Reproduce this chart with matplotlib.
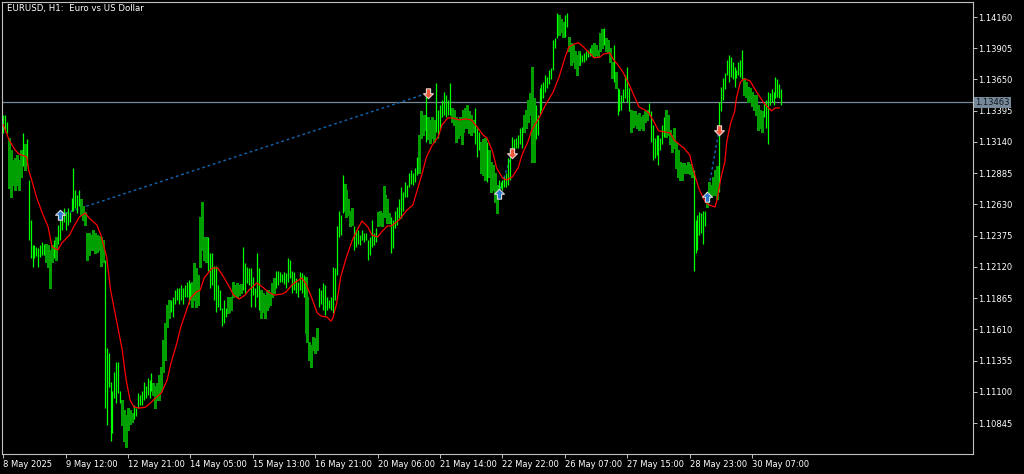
import matplotlib
matplotlib.use("Agg")
import matplotlib.pyplot as plt
import matplotlib.transforms as mtransforms
from matplotlib.path import Path
import numpy as np

plt.rcParams['font.family'] = ['DejaVu Sans']

title = "EURUSD, H1:  Euro vs US Dollar"
time_labels = ["8 May 2025", "9 May 12:00", "12 May 21:00", "14 May 05:00", "15 May 13:00",
               "16 May 21:00", "20 May 06:00", "21 May 14:00", "22 May 22:00", "26 May 07:00",
               "27 May 15:00", "28 May 23:00", "30 May 07:00"]
bars_per_label = 32
price_ticks = [1.14160, 1.13905, 1.13650, 1.13395, 1.13140, 1.12885, 1.12630,
               1.12375, 1.12120, 1.11865, 1.11610, 1.11355, 1.11100, 1.10845]
bid_price = 1.13463

highs = [
1.1336,1.1336,1.1330,1.1317,1.1307,1.1299,1.1301,1.1303,1.1299,1.1307,
1.1321,1.1312,1.1316,1.1283,1.1250,1.1230,1.1230,1.1228,1.1227,1.1230,
1.1232,1.1231,1.1231,1.1230,1.1226,1.1230,1.1234,1.1236,1.1246,1.1250,
1.1258,1.1260,1.1257,1.1260,1.1257,1.1268,1.1293,1.1275,1.1271,1.1275,
1.1267,1.1262,1.1257,1.1240,1.1240,1.1238,1.1242,1.1240,1.1238,1.1237,
1.1236,1.1234,1.1218,1.1146,1.1142,1.1118,1.1111,1.1126,1.1134,1.1134,
1.1111,1.1103,1.1095,1.1091,1.1097,1.1095,1.1093,1.1099,1.1097,1.1109,
1.1107,1.1111,1.1118,1.1115,1.1121,1.1120,1.1125,1.1117,1.1115,1.1117,
1.1124,1.1130,1.1152,1.1166,1.1181,1.1185,1.1185,1.1187,1.1193,1.1195,
1.1195,1.1197,1.1195,1.1197,1.1200,1.1201,1.1199,1.1200,1.1215,1.1211,
1.1205,1.1253,1.1265,1.1236,1.1236,1.1236,1.1223,1.1223,1.1213,1.1213,
1.1197,1.1193,1.1178,1.1185,1.1178,1.1187,1.1185,1.1187,1.1200,1.1197,
1.1199,1.1197,1.1198,1.1228,1.1215,1.1212,1.1211,1.1211,1.1204,1.1195,
1.1223,1.1211,1.1193,1.1191,1.1189,1.1193,1.1193,1.1191,1.1199,1.1203,
1.1209,1.1209,1.1208,1.1206,1.1208,1.1207,1.1219,1.1218,1.1209,1.1208,
1.1203,1.1200,1.1208,1.1207,1.1205,1.1204,1.1187,1.1151,1.1148,1.1155,
1.1154,1.1162,1.1195,1.1193,1.1199,1.1197,1.1187,1.1185,1.1187,1.1212,
1.1211,1.1245,1.1258,1.1254,1.1287,1.1280,1.1275,1.1267,1.1258,1.1260,
1.1245,1.1242,1.1242,1.1238,1.1242,1.1240,1.1240,1.1234,1.1236,1.1250,
1.1240,1.1244,1.1257,1.1258,1.1256,1.1278,1.1271,1.1267,1.1256,1.1253,
1.1250,1.1258,1.1261,1.1267,1.1277,1.1273,1.1281,1.1279,1.1289,1.1291,
1.1289,1.1293,1.1302,1.1320,1.1339,1.1334,1.1336,1.1352,1.1334,1.1332,
1.1334,1.1332,1.1362,1.1340,1.1344,1.1348,1.1355,1.1352,1.1348,1.1362,
1.1342,1.1340,1.1334,1.1332,1.1334,1.1325,1.1340,1.1342,1.1344,1.1339,
1.1336,1.1332,1.1342,1.1325,1.1322,1.1314,1.1316,1.1317,1.1314,1.1307,
1.1298,1.1295,1.1289,1.1279,1.1283,1.1281,1.1283,1.1285,1.1289,1.1301,
1.1307,1.1318,1.1316,1.1317,1.1320,1.1325,1.1326,1.1336,1.1340,1.1348,
1.1354,1.1375,1.1350,1.1344,1.1336,1.1358,1.1361,1.1363,1.1369,1.1367,
1.1373,1.1374,1.1397,1.1399,1.1419,1.1418,1.1414,1.1412,1.1418,1.1419,
1.1400,1.1395,1.1393,1.1388,1.1385,1.1388,1.1387,1.1385,1.1387,1.1388,
1.1389,1.1391,1.1393,1.1395,1.1393,1.1389,1.1403,1.1406,1.1407,1.1399,
1.1397,1.1391,1.1379,1.1393,1.1371,1.1358,1.1357,1.1352,1.1357,1.1369,
1.1375,1.1358,1.1340,1.1339,1.1339,1.1336,1.1338,1.1334,1.1336,1.1339,
1.1340,1.1346,1.1339,1.1328,1.1317,1.1320,1.1320,1.1317,1.1328,1.1334,
1.1340,1.1336,1.1324,1.1320,1.1325,1.1313,1.1307,1.1298,1.1297,1.1297,
1.1295,1.1298,1.1296,1.1293,1.1291,1.1250,1.1254,1.1257,1.1256,1.1258,
1.1258,1.1273,1.1281,1.1279,1.1285,1.1291,1.1294,1.1347,1.1359,1.1366,
1.1370,1.1381,1.1385,1.1383,1.1379,1.1375,1.1373,1.1379,1.1381,1.1389,
1.1366,1.1363,1.1359,1.1358,1.1355,1.1352,1.1352,1.1344,1.1340,1.1339,
1.1346,1.1348,1.1355,1.1354,1.1357,1.1355,1.1367,1.1365,1.1361,1.1357]

lows = [
1.1321,1.1324,1.1321,1.1276,1.1269,1.1279,1.1275,1.1279,1.1275,1.1285,
1.1294,1.1291,1.1295,1.1234,1.1219,1.1212,1.1219,1.1221,1.1212,1.1220,
1.1222,1.1222,1.1216,1.1212,1.1195,1.1216,1.1219,1.1218,1.1231,1.1234,
1.1242,1.1249,1.1242,1.1246,1.1249,1.1258,1.1258,1.1260,1.1256,1.1262,
1.1254,1.1250,1.1246,1.1218,1.1222,1.1226,1.1226,1.1223,1.1224,1.1226,
1.1213,1.1216,1.1097,1.1083,1.1114,1.1070,1.1076,1.1105,1.1101,1.1109,
1.1101,1.1083,1.1070,1.1065,1.1079,1.1084,1.1085,1.1088,1.1090,1.1097,
1.1099,1.1099,1.1103,1.1105,1.1107,1.1105,1.1111,1.1107,1.1097,1.1103,
1.1103,1.1111,1.1126,1.1136,1.1163,1.1170,1.1175,1.1171,1.1182,1.1185,
1.1182,1.1185,1.1182,1.1187,1.1187,1.1182,1.1185,1.1179,1.1185,1.1179,
1.1181,1.1212,1.1226,1.1218,1.1216,1.1209,1.1195,1.1197,1.1185,1.1175,
1.1179,1.1177,1.1164,1.1166,1.1171,1.1174,1.1175,1.1177,1.1187,1.1189,
1.1187,1.1189,1.1191,1.1193,1.1191,1.1199,1.1197,1.1179,1.1189,1.1179,
1.1187,1.1177,1.1170,1.1175,1.1170,1.1177,1.1179,1.1181,1.1187,1.1191,
1.1195,1.1197,1.1200,1.1200,1.1198,1.1195,1.1200,1.1203,1.1191,1.1193,
1.1191,1.1187,1.1193,1.1191,1.1187,1.1158,1.1151,1.1136,1.1130,1.1144,
1.1142,1.1144,1.1179,1.1182,1.1177,1.1173,1.1177,1.1178,1.1177,1.1174,
1.1185,1.1205,1.1236,1.1238,1.1256,1.1258,1.1253,1.1254,1.1245,1.1246,
1.1226,1.1228,1.1231,1.1230,1.1234,1.1232,1.1234,1.1218,1.1222,1.1228,
1.1230,1.1232,1.1245,1.1246,1.1245,1.1253,1.1257,1.1248,1.1248,1.1223,
1.1227,1.1244,1.1246,1.1252,1.1252,1.1258,1.1269,1.1269,1.1277,1.1280,
1.1279,1.1281,1.1287,1.1289,1.1317,1.1320,1.1324,1.1314,1.1316,1.1313,
1.1317,1.1314,1.1322,1.1317,1.1324,1.1334,1.1336,1.1334,1.1336,1.1336,
1.1330,1.1328,1.1314,1.1317,1.1320,1.1312,1.1322,1.1325,1.1325,1.1321,
1.1320,1.1322,1.1312,1.1302,1.1307,1.1289,1.1287,1.1283,1.1281,1.1285,
1.1273,1.1275,1.1265,1.1256,1.1273,1.1276,1.1275,1.1277,1.1277,1.1279,
1.1283,1.1306,1.1307,1.1309,1.1309,1.1312,1.1309,1.1322,1.1325,1.1330,
1.1336,1.1298,1.1298,1.1316,1.1320,1.1336,1.1340,1.1350,1.1355,1.1358,
1.1361,1.1365,1.1373,1.1391,1.1399,1.1401,1.1404,1.1400,1.1400,1.1408,
1.1388,1.1377,1.1379,1.1374,1.1369,1.1377,1.1377,1.1379,1.1379,1.1381,
1.1383,1.1384,1.1385,1.1383,1.1385,1.1383,1.1388,1.1391,1.1393,1.1388,
1.1387,1.1379,1.1366,1.1363,1.1358,1.1336,1.1339,1.1340,1.1347,1.1350,
1.1347,1.1339,1.1322,1.1326,1.1328,1.1325,1.1324,1.1325,1.1324,1.1330,
1.1332,1.1336,1.1314,1.1299,1.1301,1.1303,1.1295,1.1307,1.1312,1.1318,
1.1318,1.1320,1.1312,1.1306,1.1309,1.1293,1.1285,1.1283,1.1283,1.1289,
1.1289,1.1289,1.1288,1.1285,1.1209,1.1223,1.1226,1.1238,1.1240,1.1231,
1.1245,1.1261,1.1268,1.1269,1.1271,1.1271,1.1267,1.1273,1.1339,1.1348,
1.1357,1.1369,1.1363,1.1367,1.1365,1.1359,1.1366,1.1369,1.1367,1.1365,
1.1352,1.1351,1.1347,1.1347,1.1343,1.1340,1.1336,1.1324,1.1325,1.1322,
1.1334,1.1325,1.1312,1.1344,1.1347,1.1344,1.1350,1.1351,1.1350,1.1344]

# bar colouring runs: 'U' = lime bars, 'D' = dark green bars
color_runs = [('U',3),('D',7),('U',1),('D',1),('U',1),('U',9),('D',4),('U',1),('D',1),
              ('U',12),('D',12),('U',9),('D',6),('U',10),('D',9),('U',11),('D',8),('U',10),
              ('D',8),('U',9),('D',8),('U',15),('D',7),('U',13),('D',5),('U',12),('D',7),
              ('U',14),('D',4),('U',1),('D',4),('U',8),('D',12),('U',3),('D',3),('U',1),
              ('D',5),('U',13),('D',6),('U',12),('D',3),('U',2),('D',6),('U',6),('D',6),
              ('U',1),('D',4),('U',1),('D',1),('U',7),('D',9),('U',9),('D',14),('U',7),
              ('D',6),('U',13),('D',10),('U',10)]

# moving average samples (bar index, value)
ma_idx = [0,3,6,8,12,13,15,17,20,23,25,28,30,34,36,39,42,44,48,50,53,55,58,61,63,65,67,70,73,
          76,78,81,84,86,89,91,94,96,99,101,103,107,110,113,116,118,121,124,126,130,133,136,
          139,143,145,148,150,153,155,158,161,163,166,168,169,171,173,176,179,182,184,187,189,
          192,194,197,199,203,207,210,212,215,217,220,223,225,228,230,234,237,240,243,246,248,
          251,253,256,258,261,264,266,269,271,275,278,282,285,288,290,293,295,298,301,303,306,
          308,311,313,316,318,321,324,326,329,331,334,336,339,342,344,347,349,352,353,355,357,
          360,362,365,366,368,370,371,373,375,376,378,380,383,385,388,390,394,396,398]
ma_val = [1.13279,1.13156,1.13075,1.13042,1.13017,1.12911,1.12805,1.12690,1.12559,1.12445,
          1.12282,1.12258,1.12315,1.12380,1.12445,1.12527,1.12559,1.12519,1.12462,1.12380,
          1.12200,1.11931,1.11686,1.11441,1.11195,1.11032,1.10975,1.10967,1.10975,1.11016,
          1.11048,1.11089,1.11195,1.11334,1.11498,1.11628,1.11767,1.11865,1.11914,1.11931,
          1.12029,1.12110,1.12110,1.12037,1.11955,1.11890,1.11857,1.11890,1.11931,1.11988,
          1.11955,1.11914,1.11890,1.11898,1.11914,1.11972,1.11996,1.12029,1.11988,1.11874,
          1.11743,1.11718,1.11710,1.11677,1.11702,1.11824,1.12037,1.12200,1.12339,1.12437,
          1.12494,1.12445,1.12380,1.12364,1.12405,1.12454,1.12454,1.12503,1.12584,1.12625,
          1.12731,1.12895,1.13017,1.13115,1.13181,1.13279,1.13336,1.13336,1.13320,1.13328,
          1.13320,1.13262,1.13197,1.13173,1.13058,1.12927,1.12846,1.12829,1.12854,1.12927,
          1.13034,1.13140,1.13238,1.13344,1.13442,1.13548,1.13671,1.13826,1.13916,1.13941,
          1.13949,1.13908,1.13859,1.13826,1.13834,1.13859,1.13867,1.13810,1.13753,1.13704,
          1.13606,1.13499,1.13426,1.13401,1.13377,1.13295,1.13230,1.13222,1.13213,1.13156,
          1.13115,1.13091,1.13034,1.12968,1.12846,1.12748,1.12650,1.12625,1.12609,1.12666,
          1.12846,1.12976,1.13140,1.13295,1.13385,1.13499,1.13630,1.13655,1.13638,1.13581,
          1.13508,1.13458,1.13393,1.13418,1.13418]

buy_idx = [29, 254, 361]
buy_px = [1.12543, 1.12715, 1.12690]
sell_idx = [218, 261, 367]
sell_px = [1.13540, 1.13050, 1.13237]

# ---------------------------------------------------------------
W, H = 1024, 474
fig = plt.figure(figsize=(W/100, H/100), dpi=100, facecolor='black')
L, R, T, B = 2, 973, 2, 454
ax = fig.add_axes([L/W, (H-B)/H, (R-L)/W, (B-T)/H], facecolor='black')

px_per_bar = 1.95
x0_px = 3.3
ax.set_xlim((L - x0_px)/px_per_bar, (R - x0_px)/px_per_bar)
ax.set_ylim(1.105919, 1.142825)

n = len(highs)
idx = np.arange(n)
up_i, dn_i = [], []
pos = 0
for c, k in color_runs:
    (up_i if c == 'U' else dn_i).extend(range(pos, pos + k))
    pos += k
hi = np.array(highs)
lo = np.array(lows)
ax.vlines(idx[dn_i], lo[dn_i], hi[dn_i], colors='#00a000', linewidth=1.05,
          antialiased=False, zorder=3)
ax.vlines(idx[up_i], lo[up_i], hi[up_i], colors='#00ff00', linewidth=0.9,
          antialiased=True, zorder=3)

ax.plot(ma_idx, ma_val, color='#ff0000', linewidth=0.9, zorder=4)

ax.axhline(bid_price, color='#778899', linewidth=0.9, zorder=2)

for bi, bp, si, sp in zip(buy_idx, buy_px, sell_idx, sell_px):
    ax.plot([bi, si], [bp, sp], color='#1565b0', linewidth=1.0,
            linestyle=(0, (2, 2)), zorder=2)

up_arrow = Path([(0, 1), (0.95, 0.05), (0.4, 0.05), (0.4, -0.9), (-0.4, -0.9),
                 (-0.4, 0.05), (-0.95, 0.05), (0, 1)], closed=True)
down_arrow = Path([(0, -1), (0.95, -0.05), (0.4, -0.05), (0.4, 0.9), (-0.4, 0.9),
                   (-0.4, -0.05), (-0.95, -0.05), (0, -1)], closed=True)
ax.plot(buy_idx, buy_px, linestyle='none', marker=up_arrow, markersize=7.5,
        markerfacecolor='#2a78d0', markeredgecolor='#d8d8d8', markeredgewidth=0.8, zorder=6)
ax.plot(sell_idx, sell_px, linestyle='none', marker=down_arrow, markersize=7.5,
        markerfacecolor='#f0583a', markeredgecolor='#e8d0d0', markeredgewidth=0.8, zorder=6)

# axes styling
for s in ax.spines.values():
    s.set_color('#c0c0c0')
    s.set_linewidth(0.8)

ax.yaxis.tick_right()
ax.set_yticks(price_ticks)
ax.set_yticklabels([f"{p:.5f}" for p in price_ticks])
ax.tick_params(axis='y', direction='out', length=3, width=0.7, colors='#c0c0c0',
               labelcolor='white', labelsize=6, pad=1)

ax.set_xticks([k * bars_per_label for k in range(len(time_labels))])
ax.set_xticklabels(time_labels)
ax.tick_params(axis='x', direction='out', length=3, width=0.7, colors='#c0c0c0',
               labelcolor='white', labelsize=6, pad=1)
for lbl in ax.get_xticklabels():
    lbl.set_horizontalalignment('left')

trans = mtransforms.blended_transform_factory(ax.transAxes, ax.transData)
ax.text(1.0025, bid_price, f"{bid_price:.5f}", transform=trans, ha='left', va='center',
        fontsize=6, color='#0c1824', clip_on=False, zorder=10,
        bbox=dict(boxstyle='square,pad=0.12', facecolor='#778899', edgecolor='none'))

fig.text(7/W, 1 - 9/H, title, ha='left', va='center', fontsize=6.2, color='white')

fig.savefig('out.png', dpi=100, facecolor='black')
